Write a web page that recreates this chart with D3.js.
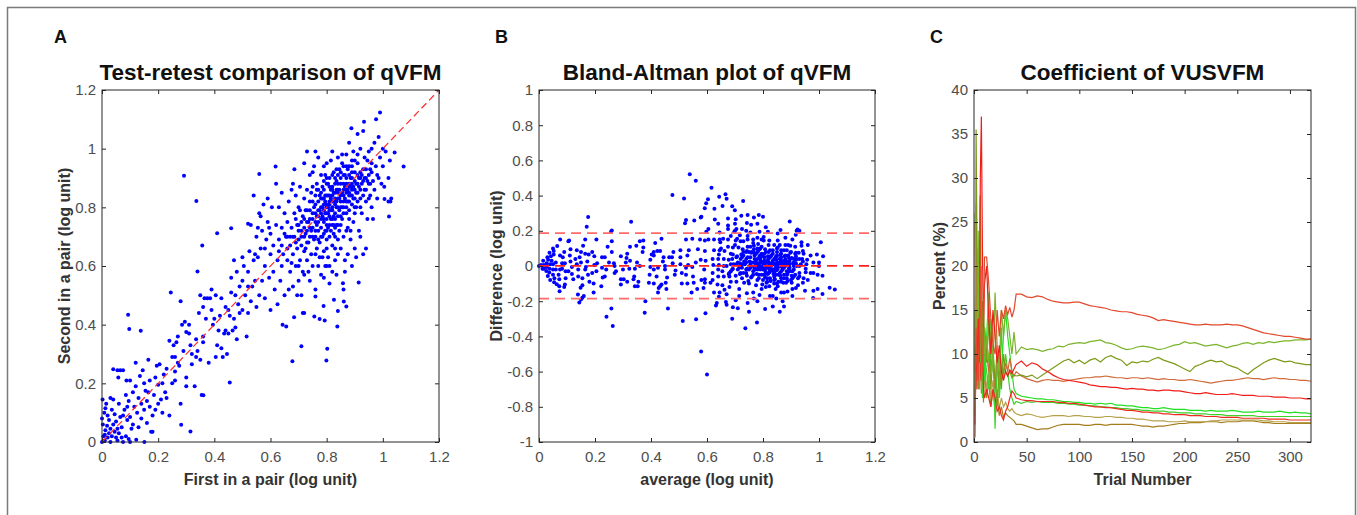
<!DOCTYPE html>
<html>
<head>
<meta charset="utf-8">
<script src="https://cdn.jsdelivr.net/npm/d3@7"></script>
<style>
  body { margin: 0; background: #fff; }
  svg { display: block; }
  svg text { font-family: "Liberation Sans", Arial, sans-serif; }
  .tick text { fill: #4d4d4d; font-size: 15px; }
  .tick line { stroke: #262626; }
  .ejeTxt { font-weight: bold; font-size: 16px; fill: #333; }
  .titulo { font-weight: bold; font-size: 22.5px; fill: #111; }
  .letra { font-weight: bold; font-size: 18px; fill: #111; }
</style>
</head>
<body>
<div id="graf"></div>
<script>
// --- datos ---
// pares test / retest (primero, segundo), log unit
const pairs = [
  [0.00,0.00],[0.005,0.02],[0.01,0.005],[0.012,0.04],[0.003,0.06],[0.0,0.08],[0.008,0.10],[0.002,0.145],[0.015,0.13],[0.02,0.015],
  [0.025,0.03],[0.018,0.055],[0.03,0.0],[0.03,0.045],[0.035,0.02],[0.04,0.06],[0.045,0.035],[0.05,0.015],[0.05,0.07],[0.055,0.045],
  [0.06,0.03],[0.065,0.085],[0.07,0.05],[0.075,0.0],[0.08,0.11],[0.085,0.02],[0.09,0.075],[0.095,0.01],[0.1,0.0],[0.04,0.145],
  [0.03,0.15],[0.02,0.09],[0.012,0.115],[0.06,0.13],[0.025,0.075],[0.045,0.095],[0.07,0.015],[0.01,0.025],[0.035,0.11],[0.055,0.005],
  [0.04,0.248],[0.055,0.245],[0.065,0.245],[0.075,0.245],[0.058,0.22],[0.087,0.21],[0.1,0.21],[0.085,0.16],[0.095,0.14],[0.11,0.17],
  [0.115,0.12],[0.12,0.19],[0.125,0.1],[0.13,0.15],[0.14,0.08],[0.14,0.13],[0.15,0.2],[0.15,0.11],[0.16,0.14],[0.165,0.17],
  [0.17,0.12],[0.175,0.035],[0.18,0.035],[0.18,0.09],[0.185,0.16],[0.19,0.22],[0.195,0.26],[0.2,0.195],[0.2,0.13],[0.205,0.265],
  [0.21,0.145],[0.215,0.2],[0.215,0.1],[0.22,0.23],[0.225,0.17],[0.23,0.25],[0.11,0.06],[0.12,0.27],[0.105,0.045],[0.135,0.225],
  [0.145,0.245],[0.16,0.065],[0.17,0.21],[0.19,0.11],[0.09,0.12],[0.075,0.09],[0.1,0.085],[0.13,0.05],[0.155,0.175],[0.165,0.28],
  [0.23,0.15],[0.24,0.09],[0.245,0.51],[0.25,0.29],[0.255,0.33],[0.26,0.21],[0.26,0.24],[0.265,0.34],[0.27,0.27],[0.275,0.26],
  [0.28,0.13],[0.28,0.48],[0.285,0.4],[0.29,0.31],[0.295,0.41],[0.3,0.22],[0.3,0.19],[0.31,0.4],[0.315,0.33],[0.32,0.3],
  [0.32,0.265],[0.33,0.19],[0.335,0.35],[0.34,0.31],[0.345,0.44],[0.35,0.28],[0.355,0.16],[0.36,0.36],[0.36,0.46],[0.365,0.49],
  [0.37,0.42],[0.375,0.49],[0.38,0.27],[0.385,0.49],[0.39,0.45],[0.395,0.4],[0.4,0.42],[0.405,0.5],[0.41,0.33],[0.415,0.38],
  [0.42,0.43],[0.425,0.49],[0.43,0.29],[0.435,0.37],[0.44,0.46],[0.445,0.3],[0.45,0.45],[0.455,0.43],[0.46,0.51],[0.465,0.38],
  [0.47,0.42],[0.475,0.5],[0.48,0.35],[0.485,0.47],[0.49,0.44],[0.3,0.375],[0.27,0.36],[0.25,0.2],[0.24,0.345],[0.35,0.5],
  [0.335,0.29],[0.405,0.29],[0.44,0.38],[0.26,0.29],[0.31,0.37],[0.36,0.34],[0.39,0.52],[0.425,0.32],[0.45,0.37],[0.475,0.39],
  [0.5,0.45],[0.5,0.55],[0.505,0.6],[0.51,0.5],[0.515,0.36],[0.52,0.53],[0.52,0.58],[0.525,0.65],[0.53,0.48],[0.535,0.53],
  [0.54,0.62],[0.54,0.84],[0.545,0.55],[0.55,0.46],[0.55,0.7],[0.555,0.63],[0.56,0.5],[0.56,0.78],[0.565,0.66],[0.57,0.55],
  [0.57,0.72],[0.575,0.81],[0.58,0.6],[0.58,0.49],[0.585,0.69],[0.59,0.75],[0.59,0.83],[0.595,0.56],[0.6,0.64],[0.6,0.71],
  [0.605,0.8],[0.61,0.58],[0.61,0.67],[0.615,0.52],[0.62,0.74],[0.62,0.88],[0.625,0.62],[0.63,0.69],[0.63,0.8],[0.635,0.55],
  [0.64,0.73],[0.64,0.85],[0.645,0.64],[0.65,0.5],[0.65,0.78],[0.47,0.62],[0.48,0.58],[0.49,0.53],[0.46,0.56],[0.53,0.74],
  [0.565,0.77],[0.545,0.64],[0.595,0.73],[0.6,0.45],[0.625,0.47],[0.64,0.6],[0.52,0.44],[0.58,0.66],[0.5,0.63],[0.555,0.73],
  [0.655,0.7],[0.66,0.62],[0.66,0.75],[0.665,0.82],[0.67,0.58],[0.67,0.67],[0.675,0.73],[0.675,0.86],[0.68,0.53],[0.68,0.64],
  [0.685,0.7],[0.685,0.78],[0.69,0.6],[0.69,0.84],[0.695,0.66],[0.695,0.74],[0.7,0.55],[0.7,0.69],[0.7,0.8],[0.705,0.62],
  [0.705,0.87],[0.71,0.72],[0.71,0.5],[0.715,0.58],[0.715,0.77],[0.72,0.65],[0.72,0.83],[0.72,0.95],[0.66,0.7],[0.675,0.61],
  [0.69,0.76],[0.705,0.79],[0.68,0.88],[0.7,0.6],[0.71,0.67],[0.665,0.52],[0.695,0.5],[0.715,0.44],[0.72,0.57],[0.685,0.93],
  [0.725,0.71],[0.725,0.79],[0.73,0.62],[0.73,0.86],[0.735,0.68],[0.735,0.75],[0.74,0.55],[0.74,0.82],[0.74,0.91],[0.745,0.64],
  [0.745,0.72],[0.75,0.78],[0.75,0.6],[0.75,0.87],[0.755,0.69],[0.755,0.94],[0.76,0.75],[0.76,0.52],[0.76,0.81],[0.765,0.66],
  [0.765,0.88],[0.77,0.72],[0.77,0.6],[0.77,0.79],[0.775,0.84],[0.775,0.68],[0.78,0.76],[0.78,0.91],[0.78,0.57],[0.73,0.79],
  [0.745,0.85],[0.755,0.8],[0.765,0.74],[0.77,0.97],[0.735,0.58],[0.75,0.7],[0.76,0.64],[0.74,0.76],[0.725,0.66],[0.775,0.63],
  [0.73,0.99],[0.76,0.99],[0.78,0.83],[0.75,0.92],[0.765,0.86],
  [0.785,0.7],[0.785,0.8],[0.785,0.87],[0.79,0.65],[0.79,0.75],[0.79,0.83],[0.79,0.94],[0.795,0.72],[0.795,0.78],[0.795,0.6],
  [0.8,0.81],[0.8,0.69],[0.8,0.88],[0.8,0.76],[0.805,0.84],[0.805,0.73],[0.805,0.63],[0.81,0.79],[0.81,0.9],[0.81,0.7],
  [0.815,0.83],[0.815,0.76],[0.815,0.96],[0.82,0.8],[0.82,0.67],[0.82,0.87],[0.82,0.74],[0.825,0.82],[0.825,0.92],[0.825,0.71],
  [0.83,0.78],[0.83,0.85],[0.83,0.62],[0.835,0.8],[0.835,0.89],[0.835,0.74],[0.84,0.83],[0.84,0.69],[0.84,0.97],[0.84,0.77],
  [0.785,0.77],[0.79,0.86],[0.795,0.91],[0.8,0.72],[0.805,0.78],[0.81,0.82],[0.815,0.72],[0.82,0.84],[0.825,0.77],[0.83,0.81],
  [0.835,0.86],[0.84,0.8],[0.8,0.66],[0.81,0.6],[0.82,0.58],[0.83,0.66],[0.79,0.56],[0.81,0.54],[0.83,0.7],[0.8,0.95],
  [0.82,0.99],[0.835,0.93],[0.795,0.84],[0.805,0.88],[0.815,0.86],[0.825,0.74],[0.785,0.63],[0.8,0.6],[0.84,0.64],[0.835,0.57],
  [0.845,0.86],[0.845,0.79],[0.845,0.72],[0.85,0.82],[0.85,0.9],[0.85,0.66],[0.855,0.76],[0.855,0.85],[0.855,0.95],[0.86,0.8],
  [0.86,0.88],[0.86,0.7],[0.865,0.83],[0.865,0.91],[0.865,0.62],[0.87,0.78],[0.87,0.86],[0.87,0.98],[0.875,0.82],[0.875,0.73],
  [0.875,0.93],[0.88,0.87],[0.88,0.79],[0.88,1.02],[0.885,0.84],[0.885,0.69],[0.885,0.9],[0.89,0.81],[0.89,0.96],[0.895,0.87],
  [0.895,0.75],[0.9,0.83],[0.9,0.92],[0.9,0.66],[0.85,0.74],[0.86,0.84],[0.87,0.9],[0.88,0.76],[0.89,0.88],[0.865,0.58],
  [0.875,0.64],[0.89,0.6],[0.86,0.52],[0.885,0.72],[0.895,0.99],[0.855,0.98],[0.87,0.72],[0.88,0.94],[0.845,0.93],[0.9,0.78],
  [0.905,0.88],[0.905,0.8],[0.91,0.95],[0.91,0.85],[0.915,0.9],[0.915,0.72],[0.92,0.83],[0.92,1.0],[0.925,0.88],[0.925,0.78],
  [0.93,0.93],[0.93,0.64],[0.935,0.86],[0.935,0.97],[0.94,0.82],[0.94,0.9],[0.945,0.76],[0.95,0.88],[0.95,0.99],[0.955,0.93],
  [0.955,0.84],[0.96,0.95],[0.96,0.8],[0.965,0.89],[0.97,1.02],[0.97,0.86],[0.975,0.94],[0.98,0.91],[0.98,0.83],[0.985,1.04],
  [0.99,0.97],[0.995,0.88],[1.0,1.0],[1.0,0.94],[1.005,0.87],[1.01,0.99],[1.02,0.9],[1.02,0.82],[1.025,0.96],[1.03,0.83],
  [0.91,1.05],[0.92,0.7],[0.93,1.06],[0.94,0.66],[0.96,1.0],[0.945,0.96],[0.965,0.76],[0.985,0.9],[0.905,0.63],[0.92,0.92],
  [0.76,0.78],[0.77,0.75],[0.78,0.8],[0.79,0.79],[0.8,0.78],[0.81,0.81],[0.82,0.82],[0.83,0.83],[0.84,0.85],[0.85,0.84],
  [0.86,0.86],[0.87,0.85],[0.88,0.88],[0.89,0.86],[0.9,0.89],[0.91,0.88],[0.92,0.9],[0.75,0.76],[0.74,0.73],[0.73,0.75],
  [0.77,0.82],[0.78,0.73],[0.79,0.81],[0.8,0.84],[0.81,0.77],[0.82,0.79],[0.83,0.76],[0.84,0.88],[0.85,0.8],[0.86,0.91],
  [0.87,0.82],[0.88,0.85],[0.89,0.92],[0.9,0.86],[0.91,0.91],[0.92,0.86],[0.93,0.89],[0.94,0.93],[0.95,0.91],[0.96,0.92],
  [0.76,0.7],[0.77,0.69],[0.78,0.7],[0.79,0.71],[0.8,0.74],[0.81,0.74],[0.82,0.76],[0.83,0.73],[0.84,0.74],[0.85,0.77],
  [0.86,0.78],[0.87,0.8],[0.88,0.82],[0.89,0.84],[0.9,0.8],[0.91,0.82],[0.92,0.8],[0.93,0.84],[0.94,0.86],[0.95,0.83],
  [0.72,0.76],[0.73,0.72],[0.74,0.79],[0.75,0.82],[0.76,0.84],[0.77,0.86],[0.78,0.85],[0.79,0.89],[0.8,0.9],[0.81,0.87],
  [0.82,0.91],[0.83,0.88],[0.84,0.91],[0.85,0.88],[0.86,0.94],[0.87,0.94],[0.88,0.91],[0.89,0.94],[0.9,0.96],[0.91,0.98],
  [0.7,0.72],[0.71,0.75],[0.72,0.7],[0.73,0.68],[0.74,0.7],[0.75,0.73],[0.76,0.72],[0.77,0.77],[0.78,0.78],[0.79,0.76],
  [0.8,0.8],[0.81,0.84],[0.82,0.86],[0.83,0.9],[0.84,0.86],[0.85,0.92],[0.86,0.82],[0.87,0.88],[0.88,0.84],[0.89,0.9],
  [0.765,0.77],[0.775,0.79],[0.785,0.83],[0.795,0.82],[0.805,0.8],[0.815,0.79],[0.825,0.85],[0.835,0.82],[0.845,0.83],[0.855,0.8],
  [0.865,0.87],[0.875,0.86],[0.885,0.87],[0.895,0.83],[0.905,0.85],[0.915,0.87],[0.925,0.91],[0.935,0.9],[0.945,0.89],[0.955,0.88],
  [0.68,0.7],[0.69,0.68],[0.7,0.74],[0.71,0.7],[0.72,0.73],[0.66,0.66],[0.67,0.7],[0.64,0.67],[0.65,0.71],[0.63,0.65],
  [1.074,0.939],[0.99,1.123],[0.976,1.10],[0.933,1.092],[0.888,1.07],[1.042,0.987],[1.022,0.769],[1.027,0.82],[1.006,0.828],[0.914,0.544],
  [0.84,0.447],[0.838,0.394],[0.802,0.318],[0.799,0.278],[0.71,0.326],[0.678,0.275],[0.292,0.908],[0.336,0.822],[0.093,0.434],[0.097,0.385],
  [0.138,0.379],[0.357,0.67],[0.41,0.712],[0.46,0.729],[0.52,0.744],[0.56,0.914],[0.618,0.939],[0.34,0.581],[0.455,0.203],[0.361,0.159],
  [0.315,0.036],[0.282,0.059],[0.151,0.0],[0.122,0.008],[0.656,0.394],[0.643,0.4],[0.756,0.428],[0.775,0.419],[0.793,0.414],[0.826,0.485],
  [0.858,0.541],[0.861,0.479],[0.87,0.462],[0.72,0.44],[0.76,0.496],[0.789,0.464],[0.684,0.425]
]

// limites de acuerdo Bland-Altman (media +/- 1.96 DE)
const baLines = [0.187, 0.001, -0.185]

const ticksA = [0, 0.2, 0.4, 0.6, 0.8, 1, 1.2]
const ticksBy = [-1, -0.8, -0.6, -0.4, -0.2, 0, 0.2, 0.4, 0.6, 0.8, 1]
const ticksCx = [0, 50, 100, 150, 200, 250, 300]
const ticksCy = [0, 5, 10, 15, 20, 25, 30, 35, 40]

// ensayos (trial number) para las curvas del panel C
const trials = [
  1, 2, 3, 4, 5, 6, 7, 8, 9, 10,
  12, 14, 16, 18, 20, 22, 24, 26, 28, 30, 32, 34, 36, 38, 40,
  45, 50, 55, 60, 65, 70, 75, 80, 85, 90,
  95, 100, 105, 110, 115, 120, 125, 130, 135, 140,
  145, 150, 155, 160, 165, 170, 175, 180, 185, 190,
  195, 200, 205, 210, 215, 220, 225, 230, 235, 240,
  245, 250, 255, 260, 265, 270, 275, 280, 285, 290,
  295, 300, 305, 310, 315, 320
]

const serieRojoNaranja = [
  0.5, 13, 9, 7, 12, 20, 10, 8, 14, 21,
  21, 18, 14, 11, 10, 15, 12, 15, 14, 15.5, 14.5, 15.3, 14.2, 15, 16.8,
  16.8, 16.5, 16.4, 16.6, 16.5, 16.2, 16.0, 15.9, 15.8, 15.8,
  15.9, 15.9, 15.7, 15.5, 15.4, 15.3, 15.2, 15.0, 14.9, 14.8,
  14.8, 14.7, 14.5, 14.4, 14.3, 14.1, 13.8, 13.9, 13.8, 13.7,
  13.6, 13.5, 13.4, 13.3, 13.3, 13.4, 13.3, 13.3, 13.3, 13.4,
  13.3, 13.3, 13.2, 13.0, 12.8, 12.6, 12.4, 12.3, 12.2, 12.1,
  12.0, 12.0, 11.9, 11.8, 11.7, 11.7
]
const serieVerdeAmarillo = [
  26, 12, 9, 24, 6, 18, 12, 8, 15, 10,
  12, 9, 13, 8, 17, 11, 8, 15, 12, 15, 14, 12, 10, 12.5, 10,
  10.8, 10.5, 10.6, 10.5, 10.3, 10.5, 10.6, 10.9, 10.8, 11.1,
  11.2, 11.3, 11.2, 11.4, 11.5, 11.6, 11.3, 11.2, 11.0, 10.7,
  10.5, 10.6, 10.8, 10.9, 10.8, 10.7, 10.5, 10.6, 10.8, 11.0,
  11.1, 11.4, 11.2, 11.3, 11.1, 10.9, 11.0, 11.1, 10.9, 10.7,
  10.9, 11.0, 11.2, 11.3, 11.1, 11.3, 11.2, 11.4, 11.3, 11.4,
  11.5, 11.5, 11.6, 11.6, 11.6, 11.7
]
const serieOliva = [
  3, 35.5, 20, 8, 14, 28, 9, 16, 10, 13,
  9, 14, 6, 10, 7, 4, 9, 6, 10, 8, 7.5, 8, 7.3, 7.6, 7.5,
  7.6, 7.4, 7.6, 7.2, 7.6, 8.0, 8.4, 8.8, 9.2, 9.4,
  9.0, 9.3, 8.9, 9.3, 9.5, 9.1, 9.6, 9.8, 9.5, 9.3,
  8.7, 9.1, 9.0, 9.2, 9.1, 9.4, 9.6, 9.3, 9.1, 8.9,
  8.6, 8.3, 8.0, 8.6, 8.8, 9.1, 9.3, 9.1, 9.2, 8.8,
  8.6, 8.4, 8.0, 7.7, 8.2, 8.6, 9.0, 9.3, 9.5, 9.3,
  9.1, 9.2, 9.0, 8.9, 8.8, 8.8
]
const serieNaranja = [
  8, 27, 6, 15, 12, 28, 7, 11, 9, 13,
  10, 8, 12, 9, 6, 11, 9, 7, 8, 9, 8, 9.5, 8, 7.5, 8,
  7.5, 7.2, 7.0, 6.8, 7.0, 7.1, 7.0, 7.0, 6.9, 7.0,
  7.1, 7.2, 7.3, 7.3, 7.4, 7.4, 7.5, 7.4, 7.3, 7.3,
  7.2, 7.3, 7.3, 7.2, 7.3, 7.2, 7.1, 7.2, 7.1, 7.1,
  7.0, 7.0, 7.1, 7.0, 6.9, 6.8, 6.7, 6.8, 6.9, 7.0,
  7.0, 7.1, 7.2, 7.3, 7.2, 7.2, 7.1, 7.2, 7.3, 7.2,
  7.2, 7.1, 7.1, 7.0, 7.0, 6.9
]
const serieRojo = [
  2, 11, 8, 14, 9, 30, 37, 22, 13, 18,
  20, 14, 10, 15, 12, 9, 11, 8, 7, 8, 7.5, 8.2, 7.8, 8.3, 8.8,
  9.2, 8.6, 9.0, 8.8, 8.3, 8.0, 7.6, 7.3, 7.1, 7.0,
  6.9, 6.8, 6.7, 6.5, 6.4, 6.3, 6.3, 6.2, 6.2, 6.1,
  6.0, 6.1, 6.0, 6.0, 5.9, 5.9, 5.8, 5.9, 5.9, 5.8,
  5.8, 5.7, 5.6, 5.5, 5.5, 5.6, 5.5, 5.4, 5.4, 5.4,
  5.5, 5.4, 5.3, 5.3, 5.3, 5.2, 5.2, 5.2, 5.1, 5.1,
  5.1, 5.0, 5.0, 5.0, 4.9, 4.9
]
const serieVerde = [
  15, 9, 12, 19, 23, 14, 20, 11, 16, 7,
  12, 17, 8, 11, 6, 10, 5, 8, 12, 15, 12, 10, 8, 6, 5.5,
  5.2, 5.1, 5.0, 4.9, 4.9, 4.8, 4.8, 4.7, 4.6, 4.6,
  4.5, 4.5, 4.4, 4.4, 4.3, 4.4, 4.3, 4.4, 4.2, 4.2,
  4.1, 4.1, 4.0, 3.9, 3.9, 3.8, 3.8, 3.9, 3.8, 3.7,
  3.7, 3.7, 3.6, 3.6, 3.6, 3.5, 3.6, 3.5, 3.5, 3.5,
  3.6, 3.5, 3.4, 3.4, 3.4, 3.5, 3.4, 3.4, 3.4, 3.5,
  3.4, 3.3, 3.4, 3.3, 3.3, 3.2
]
const serieVerde2 = [
  10, 16, 22, 6, 12, 9, 17, 5, 13, 10,
  8, 6, 14, 12, 1.5, 9, 6, 13, 7, 10, 8, 6, 5, 4.3, 4.6,
  4.4, 4.6, 4.5, 4.6, 4.5, 4.5, 4.5, 4.4, 4.4, 4.3,
  4.3, 4.2, 4.2, 4.1, 4.1, 4.0, 4.0, 3.9, 3.9, 3.8,
  3.8, 3.7, 3.7, 3.6, 3.6, 3.5, 3.5, 3.5, 3.4, 3.4,
  3.3, 3.3, 3.3, 3.2, 3.2, 3.2, 3.1, 3.1, 3.1, 3.0,
  3.0, 3.0, 3.0, 3.0, 3.0, 2.9, 2.9, 2.9, 2.9, 2.9,
  2.9, 2.9, 2.9, 2.9, 2.9, 2.9
]
const serieRojo2 = [
  25, 6, 10, 8, 6, 9, 7, 12, 6, 5,
  6, 5, 4, 6, 5, 3.5, 4, 3, 2.5, 3.5, 4, 5, 5.8, 5.5, 5.0,
  4.8, 4.7, 4.7, 4.6, 4.6, 4.6, 4.6, 4.5, 4.5, 4.4,
  4.4, 4.3, 4.2, 4.1, 4.0, 4.0, 3.9, 3.9, 3.8, 3.7,
  3.6, 3.6, 3.5, 3.4, 3.4, 3.3, 3.3, 3.2, 3.2, 3.1,
  3.1, 3.1, 3.0, 3.0, 3.0, 2.9, 2.9, 2.9, 2.8, 2.8,
  2.8, 2.8, 2.7, 2.7, 2.7, 2.7, 2.7, 2.6, 2.6, 2.6,
  2.6, 2.5, 2.5, 2.5, 2.5, 2.5
]
const serieCaqui = [
  12, 22, 7, 14, 8, 15, 6, 10, 5.5, 9,
  6, 8, 5, 7, 4.5, 6, 3.8, 5, 4, 4.5, 3.8, 3.5, 3.8, 3.4, 3.2,
  3.0, 3.2, 3.1, 2.9, 2.8, 2.9, 3.0, 3.0, 3.0, 2.9,
  3.0, 3.0, 2.9, 2.9, 2.8, 2.8, 2.9, 2.9, 2.8, 2.8,
  2.7, 2.7, 2.6, 2.6, 2.5, 2.4, 2.4, 2.4, 2.3, 2.3,
  2.3, 2.4, 2.3, 2.3, 2.3, 2.3, 2.4, 2.4, 2.5, 2.5,
  2.5, 2.5, 2.5, 2.5, 2.5, 2.5, 2.4, 2.4, 2.3, 2.3,
  2.3, 2.2, 2.2, 2.2, 2.2, 2.2
]
const serieMarron = [
  5, 18, 9, 11, 7, 13, 5.5, 9, 4.5, 8,
  5, 7, 4, 6, 3.5, 5, 3, 4, 2.8, 3.3, 3.0, 2.8, 2.6, 2.4, 2.0,
  2.0, 1.8, 1.6, 1.4, 1.5, 1.5, 1.7, 1.9, 2.0, 2.0,
  2.0, 2.0, 1.9, 1.9, 2.0, 2.0, 1.9, 2.0, 2.0, 2.0,
  2.0, 2.0, 1.9, 1.8, 1.8, 1.7, 1.8, 1.8, 1.9, 2.0,
  2.1, 2.1, 2.2, 2.2, 2.2, 2.3, 2.3, 2.3, 2.2, 2.3,
  2.3, 2.3, 2.4, 2.4, 2.4, 2.3, 2.2, 2.2, 2.1, 2.1,
  2.1, 2.1, 2.1, 2.1, 2.1, 2.1
]

const series = [
  { values: serieMarron, color: '#a47c1c' },
  { values: serieCaqui, color: '#b8a04a' },
  { values: serieVerde2, color: '#3fd02a' },
  { values: serieVerde, color: '#22e022' },
  { values: serieRojo2, color: '#ee2a22' },
  { values: serieNaranja, color: '#d06a3a' },
  { values: serieOliva, color: '#7c9a18' },
  { values: serieVerdeAmarillo, color: '#7ab42a' },
  { values: serieRojo, color: '#f01e1a' },
  { values: serieRojoNaranja, color: '#e2482c' },
]

// --- lienzo ---
const anchoTotal = 1357
const altoTotal = 515

const svg = d3.select('#graf')
  .append('svg')
  .attr('width', anchoTotal)
  .attr('height', altoTotal)

svg.append('rect')
  .attr('x', 7.5).attr('y', 7.5)
  .attr('width', 1348).attr('height', 530)
  .attr('fill', 'none')
  .attr('stroke', '#7a7a7a')
  .attr('stroke-width', 1.5)

const topY = 90
const alto = 352

function caja(g, x, y, ancho, xTicks, yTicks) {
  const fmt = d => String(d)
  g.append('g')
    .attr('transform', `translate(0, ${alto})`)
    .call(d3.axisBottom(x).tickValues(xTicks).tickSize(-4).tickSizeOuter(0).tickPadding(9).tickFormat(fmt))
  g.append('g')
    .call(d3.axisTop(x).tickValues(xTicks).tickSize(-4).tickSizeOuter(0).tickFormat(''))
  g.append('g')
    .call(d3.axisLeft(y).tickValues(yTicks).tickSize(-4).tickSizeOuter(0).tickPadding(6).tickFormat(fmt))
  g.append('g')
    .attr('transform', `translate(${ancho}, 0)`)
    .call(d3.axisRight(y).tickValues(yTicks).tickSize(-4).tickSizeOuter(0).tickFormat(''))
  g.selectAll('.domain').remove()
  g.append('rect')
    .attr('width', ancho).attr('height', alto)
    .attr('fill', 'none')
    .attr('stroke', '#262626')
    .attr('stroke-width', 1)
}

function textos(left, ancho, letra, letraX, titulo, xLab, yLab, yLabX) {
  svg.append('text').attr('class', 'letra').attr('x', letraX).attr('y', 43).text(letra)
  svg.append('text').attr('class', 'titulo')
    .attr('x', left + ancho / 2).attr('y', 80)
    .attr('text-anchor', 'middle').text(titulo)
  svg.append('text').attr('class', 'ejeTxt')
    .attr('x', left + ancho / 2).attr('y', 485)
    .attr('text-anchor', 'middle').text(xLab)
  svg.append('text').attr('class', 'ejeTxt')
    .attr('transform', `translate(${yLabX}, ${topY + alto / 2}) rotate(-90)`)
    .attr('text-anchor', 'middle').text(yLab)
}

// --- panel A ---
const leftA = 102, anchoA = 337
const gA = svg.append('g').attr('transform', `translate(${leftA}, ${topY})`)
const xA = d3.scaleLinear().domain([0, 1.2]).range([0, anchoA])
const yA = d3.scaleLinear().domain([0, 1.2]).range([alto, 0])

gA.selectAll('circle').data(pairs).join('circle')
  .attr('cx', d => xA(d[0]))
  .attr('cy', d => yA(d[1]))
  .attr('r', 2)
  .attr('fill', '#0000ff')

gA.append('line')
  .attr('x1', xA(0)).attr('y1', yA(0))
  .attr('x2', xA(1.2)).attr('y2', yA(1.2))
  .attr('stroke', '#ff2a2a')
  .attr('stroke-width', 1.2)
  .attr('stroke-dasharray', '7,4')

caja(gA, xA, yA, anchoA, ticksA, ticksA)
textos(leftA, anchoA, 'A', 54, 'Test-retest comparison of qVFM', 'First in a pair (log unit)', 'Second in a pair (log unit)', 70)

// --- panel B ---
const leftB = 539, anchoB = 336
const gB = svg.append('g').attr('transform', `translate(${leftB}, ${topY})`)
const xB = d3.scaleLinear().domain([0, 1.2]).range([0, anchoB])
const yB = d3.scaleLinear().domain([-1, 1]).range([alto, 0])

gB.selectAll('circle').data(pairs).join('circle')
  .attr('cx', d => xB((d[0] + d[1]) / 2))
  .attr('cy', d => yB(d[0] - d[1]))
  .attr('r', 2)
  .attr('fill', '#0000ff')

gB.selectAll('.ba').data(baLines).join('line')
  .attr('class', 'ba')
  .attr('x1', 0).attr('x2', anchoB)
  .attr('y1', d => yB(d)).attr('y2', d => yB(d))
  .attr('stroke', (d, i) => i === 1 ? '#ff2020' : '#ff6a6a')
  .attr('stroke-width', 1.8)
  .attr('stroke-dasharray', '10,6')

caja(gB, xB, yB, anchoB, ticksA, ticksBy)
textos(leftB, anchoB, 'B', 495, 'Bland-Altman plot of qVFM', 'average (log unit)', 'Difference (log unit)', 502)

// --- panel C ---
const leftC = 974, anchoC = 337
const gC = svg.append('g').attr('transform', `translate(${leftC}, ${topY})`)
const xC = d3.scaleLinear().domain([0, 320]).range([0, anchoC])
const yC = d3.scaleLinear().domain([0, 40]).range([alto, 0])

const linea = d3.line()
  .x((d, i) => xC(trials[i]))
  .y(d => yC(d))

gC.selectAll('path.serie').data(series).join('path')
  .attr('class', 'serie')
  .attr('d', d => linea(d.values))
  .attr('fill', 'none')
  .attr('stroke', d => d.color)
  .attr('stroke-width', 1.2)

caja(gC, xC, yC, anchoC, ticksCx, ticksCy)
textos(leftC, anchoC, 'C', 930, 'Coefficient of VUSVFM', 'Trial Number', 'Percent (%)', 945)
</script>
</body>
</html>
